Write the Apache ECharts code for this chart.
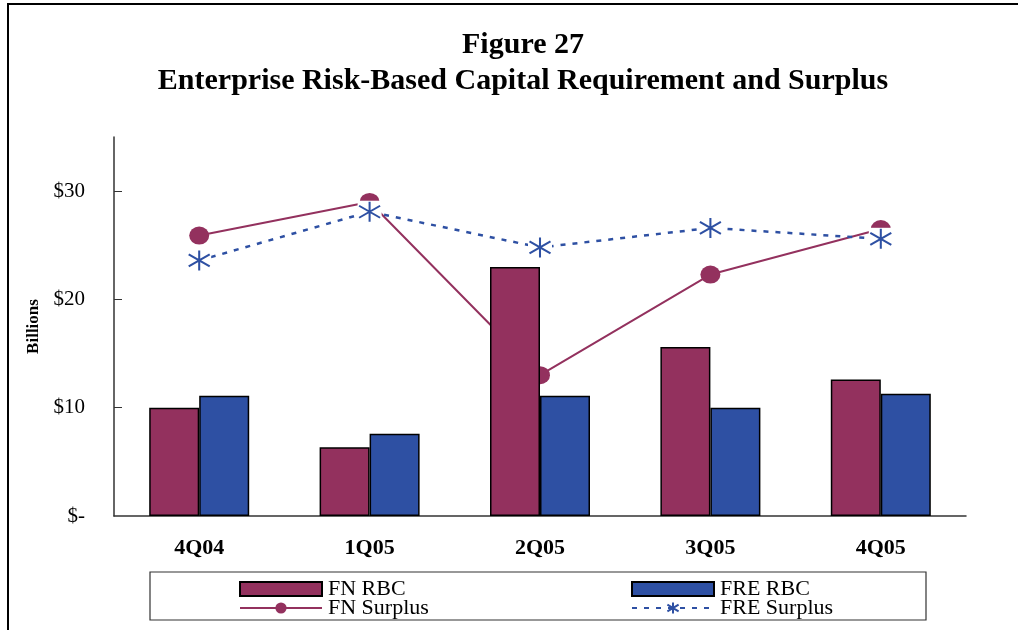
<!DOCTYPE html>
<html>
<head>
<meta charset="utf-8">
<script src="https://cdn.jsdelivr.net/npm/echarts@6/dist/echarts.min.js"></script>
<style>html,body{margin:0;padding:0;background:#fff;}#c{width:1018px;height:630px;}</style>
</head>
<body>
<div id="c"></div>
<script>
var categories = ['4Q04', '1Q05', '2Q05', '3Q05', '4Q05'];
var fnRBC = [10.0, 6.35, 23.0, 15.6, 12.6];
var freRBC = [11.1, 7.6, 11.1, 10.0, 11.3];
var fnSurplus = [25.9, 29.0, 13.0, 22.3, 26.5];
var freSurplus = [23.6, 28.1, 24.8, 26.6, 25.6];
var yTicks = [0, 10, 20, 30];
var yTickLabels = ['$-', '$10', '$20', '$30'];

var FN = '#93315E', FRE = '#2E50A3';
var serif = "'Liberation Serif','Times New Roman',serif";
var starPath = 'path://M10,0 L10,20 M1,4 L19,16 M1,16 L19,4';

var chart = echarts.init(document.getElementById('c'), null, {renderer: 'canvas'});
function legendAt(name, left, top, icon) {
  var l = {
    data: [{name: name}], left: left, top: top, orient: 'horizontal',
    itemWidth: 82, itemHeight: 14, itemGap: 0, padding: 0,
    selectedMode: false,
    textStyle: {fontFamily: serif, fontSize: 22, color: '#000', padding: [0, 0, 0, 1]}
  };
  if (icon) l.data[0].icon = icon;
  return l;
}
chart.setOption({
  animation: false,
  backgroundColor: '#fff',
  title: {
    text: 'Figure 27\nEnterprise Risk-Based Capital Requirement and Surplus',
    left: 518, top: 22, textAlign: 'center',
    textStyle: {fontFamily: serif, fontSize: 30, fontWeight: 'bold', color: '#000', lineHeight: 36}
  },
  legend: [
    legendAt('FN RBC', 239, 578, 'rect'),
    legendAt('FRE RBC', 631, 578, 'rect'),
    legendAt('FN Surplus', 239, 597),
    legendAt('FRE Surplus', 631, 597)
  ],
  graphic: [
    {type: 'rect', shape: {x: 8, y: 4, width: 1100, height: 700}, style: {fill: 'none', stroke: '#000', lineWidth: 2}, z: 0, silent: true},
    {type: 'rect', shape: {x: 150, y: 572, width: 776, height: 48}, style: {fill: 'none', stroke: '#333', lineWidth: 1.2}, z: 0, silent: true}
  ],
  grid: {left: 114, right: 52, top: 137, bottom: 114},
  xAxis: {
    type: 'category', data: categories,
    axisLine: {lineStyle: {color: '#333', width: 1.5}},
    axisTick: {show: false},
    axisLabel: {fontFamily: serif, fontSize: 22, fontWeight: 'bold', color: '#000', margin: 21}
  },
  yAxis: {
    type: 'value', min: 0, max: 35, interval: 10,
    name: 'Billions', nameLocation: 'middle', nameRotate: 90, nameGap: 64,
    nameTextStyle: {fontFamily: serif, fontSize: 17, fontWeight: 'bold', color: '#000'},
    splitLine: {show: false},
    axisLine: {show: true, lineStyle: {color: '#333', width: 1.5}},
    axisTick: {show: true, inside: true, length: 8, customValues: [10, 20, 30], lineStyle: {color: '#333'}},
    axisLabel: {
      fontFamily: serif, fontSize: 21, color: '#000', margin: 29,
      customValues: yTicks,
      formatter: function (v) { var i = yTicks.indexOf(v); return i >= 0 ? yTickLabels[i] : ''; }
    }
  },
  series: [
    {name: 'FN RBC', type: 'bar', data: fnRBC, barWidth: 50, barGap: '0%', z: 10,
     itemStyle: {color: FN, borderColor: '#000', borderWidth: 1.5}},
    {name: 'FRE RBC', type: 'bar', data: freRBC, barWidth: 50, barGap: '0%', z: 10,
     itemStyle: {color: FRE, borderColor: '#000', borderWidth: 1.5}},
    {name: 'FN Surplus', type: 'line', data: fnSurplus, z: 3,
     symbol: 'circle', symbolSize: [20, 18],
     lineStyle: {color: FN, width: 2}, itemStyle: {color: FN}},
    {name: 'FRE Surplus', type: 'line', data: freSurplus, z: 3,
     symbol: starPath, symbolSize: [21, 20],
     lineStyle: {color: FRE, width: 2.5, type: [5, 7]},
     itemStyle: {color: FRE, borderColor: FRE, borderWidth: 2}},
    {name: 'mask', type: 'line', data: freSurplus, z: 4, silent: true,
     symbol: 'rect', symbolSize: [24, 22],
     lineStyle: {width: 0, opacity: 0}, itemStyle: {color: '#fff'}},
    {name: 'star', type: 'line', data: freSurplus, z: 5, silent: true,
     symbol: starPath, symbolSize: [21, 20],
     lineStyle: {width: 0, opacity: 0},
     itemStyle: {color: FRE, borderColor: FRE, borderWidth: 2}}
  ]
});
</script>
</body>
</html>
